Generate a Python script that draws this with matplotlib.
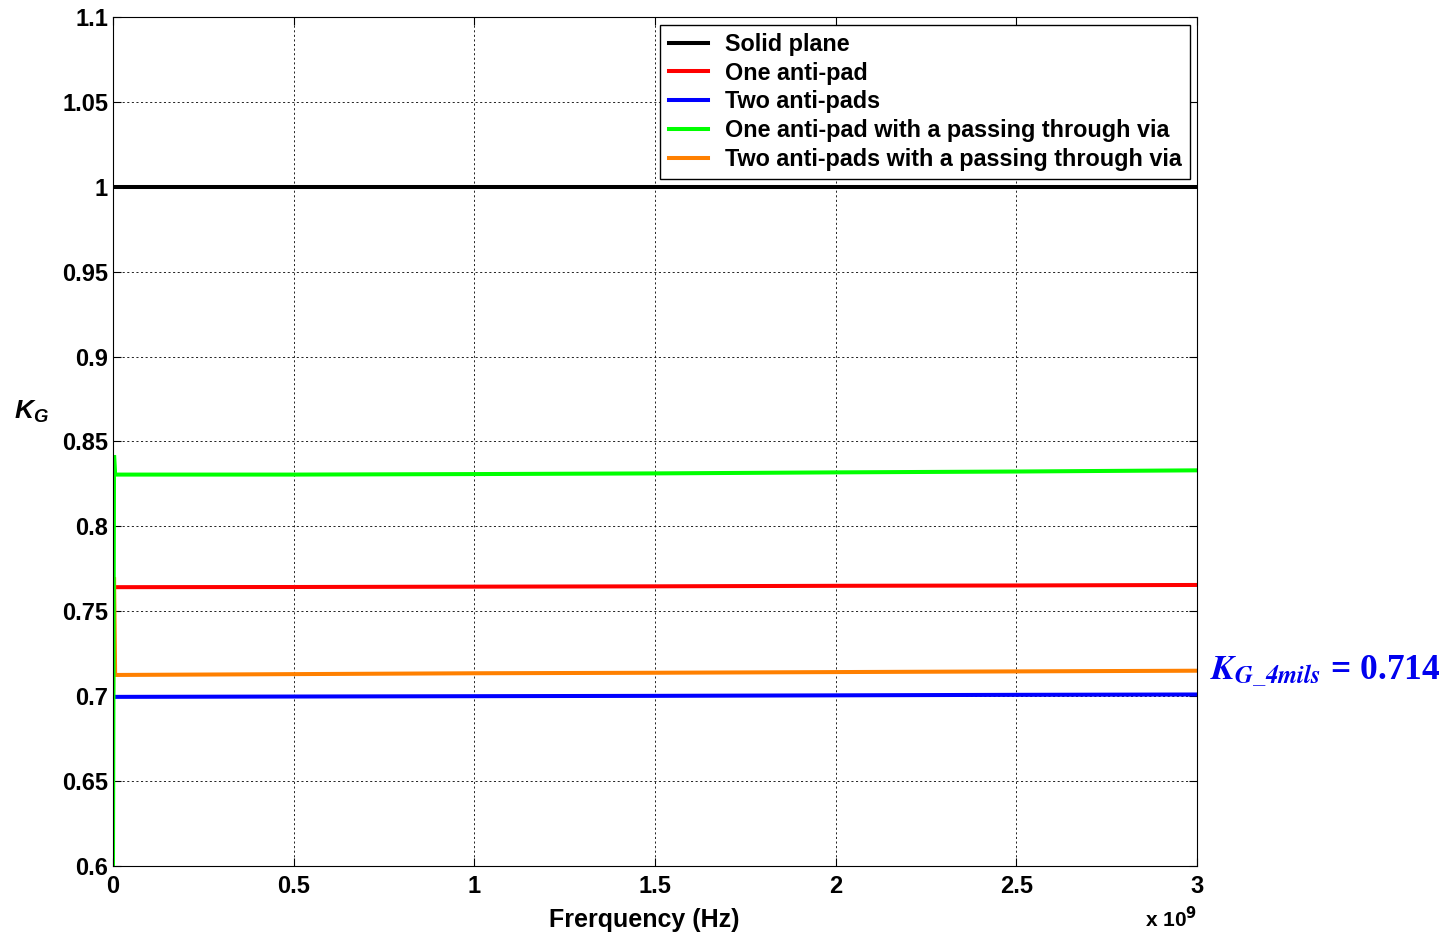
import numpy as np
import matplotlib.pyplot as plt
import matplotlib.ticker as ticker

plt.rcParams['font.family'] = ['Liberation Sans', 'DejaVu Sans']
plt.rcParams['font.weight'] = 'bold'
plt.rcParams['mathtext.fontset'] = 'custom'
plt.rcParams['mathtext.bfit'] = 'Liberation Sans:italic:bold'

# Frequency samples (Hz)
freq = [0, 3e6, 6e6, 5e8, 1e9, 1.5e9, 2e9, 2.5e9, 3e9]

# K_G values
solid_plane = [1.0, 1.0, 1.0, 1.0, 1.0, 1.0, 1.0, 1.0, 1.0]
one_antipad = [0.764, 0.764, 0.7642, 0.7643, 0.7645, 0.7647, 0.765, 0.7652, 0.7655]
two_antipads = [0.6995, 0.6995, 0.6996, 0.6998, 0.7, 0.7002, 0.7005, 0.7008, 0.701]
one_antipad_via = [0.598, 0.842, 0.8305, 0.8305, 0.8308, 0.8312, 0.8318, 0.8323, 0.833]
two_antipads_via = [0.696, 0.770, 0.7125, 0.713, 0.7135, 0.7138, 0.7142, 0.7146, 0.715]

labels = ['Solid plane', 'One anti-pad', 'Two anti-pads',
          'One anti-pad with a passing through via',
          'Two anti-pads with a passing through via']
colors = ['black', '#ff0000', '#0000ff', '#00ff00', '#ff8000']

fig = plt.figure(figsize=(14.54, 9.41), dpi=100)
ax = fig.add_axes([0.0777, 0.0797, 0.7455, 0.9023])

series = [solid_plane, one_antipad, two_antipads, one_antipad_via, two_antipads_via]
# draw order: back to front
order = [0, 1, 2, 4, 3]
lines = {}
for i in order:
    ln, = ax.plot(freq, series[i], color=colors[i], lw=2.9, label=labels[i],
                  solid_joinstyle='miter')
    lines[i] = ln

ax.set_xlim(0, 3e9)
ax.set_ylim(0.6, 1.1)
ax.xaxis.set_major_locator(ticker.MultipleLocator(0.5e9))
ax.xaxis.set_major_formatter(ticker.FuncFormatter(lambda v, p: f'{v/1e9:g}'))
ax.yaxis.set_major_locator(ticker.MultipleLocator(0.05))
ax.yaxis.set_major_formatter(ticker.FuncFormatter(lambda v, p: f'{round(v, 2):g}'))
ax.tick_params(direction='in', length=6, labelsize=17, top=True, right=True, width=0.8)
ax.tick_params(axis='x', pad=6.5)
ax.tick_params(axis='y', pad=3.5)
for s in ax.spines.values():
    s.set_linewidth(0.8)
ax.grid(True, color='black', linestyle=(0, (2.5, 3)), linewidth=0.6)

ax.set_xlabel('Frerquency (Hz)', fontsize=18, fontweight='bold')
ax.xaxis.set_label_coords(0.49, -0.049)
ax.text(1.0, -0.0625, r'x 10$^{9}$', transform=ax.transAxes, ha='right', va='center',
        fontsize=15, fontweight='bold')
fig.text(0.022, 0.562, r'$\mathbfit{K_G}$', fontsize=19, ha='center', va='center')

leg = ax.legend([lines[i] for i in range(5)], labels, loc='upper right',
                bbox_to_anchor=(0.9935, 0.991), fontsize=16.8, frameon=True,
                fancybox=False, edgecolor='black', framealpha=1,
                handlelength=1.7, handletextpad=0.72, labelspacing=0.25,
                borderpad=0.35, borderaxespad=0)
leg.get_frame().set_linewidth(1.0)
for t in leg.get_texts():
    t.set_fontweight('bold')

fig.text(0.8325, 0.287, r'$\mathbfit{K_{G\_4mils}}$' + ' = 0.714', color='#0000ee',
         fontsize=25.5, fontweight='bold', family='Liberation Serif',
         math_fontfamily='stix', ha='left', va='center')

fig.savefig('out.png', dpi=100)
